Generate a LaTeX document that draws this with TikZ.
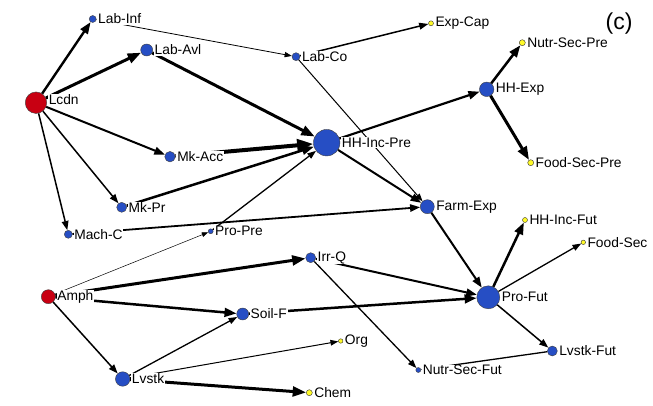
\documentclass[tikz,border=0pt]{standalone}
\usepackage{fontspec}
\setmainfont{Liberation Sans}
\usetikzlibrary{arrows.meta}
\definecolor{nblue}{RGB}{38,78,196}
\definecolor{nred}{RGB}{200,0,18}
\definecolor{nyel}{RGB}{255,250,40}
\begin{document}
\begin{tikzpicture}[x=1pt,y=-1pt,
  bn/.style={circle,draw=black!75,line width=0.4pt,fill=nblue,inner sep=0pt,minimum size=#1},
  rn/.style={circle,draw=black!75,line width=0.4pt,fill=nred,inner sep=0pt,minimum size=#1},
  yn/.style={circle,draw=black!80,line width=0.4pt,fill=nyel,inner sep=0pt,minimum size=#1},
  lbl/.style={fill=white,anchor=west,inner xsep=0.8pt,inner ysep=0.6pt,xshift=0.8pt,font=\fontsize{13.8}{15}\selectfont},
  ed/.style={line width=#1,-{Triangle[length=5pt 2.8,width=3.5pt 2.1]}}
]
\useasboundingbox[fill=white] (0,0) rectangle (653,406);

% nodes
\node[rn=21.5] (Lcdn) at (36,102.7) {};
\node[bn=7] (LabInf) at (92.7,19) {};
\node[bn=12] (LabAvl) at (146.7,50) {};
\node[bn=8] (LabCo) at (296,56.7) {};
\node[yn=5] (ExpCap) at (431,23.3) {};
\node[yn=6] (NutrSecPre) at (522.3,42.7) {};
\node[bn=14.5] (HHExp) at (486.7,89.3) {};
\node[bn=26.5] (HHIncPre) at (326.7,142.7) {};
\node[yn=6] (FoodSecPre) at (530.7,162.7) {};
\node[bn=10.5] (MkAcc) at (170,156.7) {};
\node[bn=10] (MkPr) at (121.7,207.3) {};
\node[bn=8] (MachC) at (68.3,234.3) {};
\node[bn=5] (ProPre) at (210.7,231.3) {};
\node[bn=14] (FarmExp) at (427.3,206.7) {};
\node[yn=5] (HHIncFut) at (525,220) {};
\node[yn=4.5] (FoodSec) at (583.3,242.3) {};
\node[bn=10] (IrrQ) at (310.7,257.7) {};
\node[rn=14] (Amph) at (48.3,296.7) {};
\node[bn=12] (SoilF) at (242.7,314) {};
\node[bn=23] (ProFut) at (488.3,297.3) {};
\node[yn=4.5] (Org) at (340.7,341) {};
\node[bn=10] (LvstkFut) at (552.3,351) {};
\node[bn=5] (NutrSecFut) at (418.3,370) {};
\node[bn=14.5] (Lvstk) at (122.7,379) {};
\node[yn=6] (Chem) at (309.3,392.7) {};

% edges
\draw[ed=2.4] (Lcdn) -- (LabInf);
\draw[ed=3] (Lcdn) -- (LabAvl);
\draw[ed=2] (Lcdn) -- (MkAcc);
\draw[ed=1.5] (Lcdn) -- (MkPr);
\draw[ed=1.5] (Lcdn) -- (MachC);
\draw[ed=0.8] (LabInf) -- (LabCo);
\draw[ed=3] (LabAvl) -- (HHIncPre);
\draw[ed=1.5] (LabCo) -- (ExpCap);
\draw[ed=1] (LabCo) -- (FarmExp);
\draw[ed=4] (MkAcc) -- (HHIncPre);
\draw[ed=2.5] (MkPr) -- (HHIncPre);
\draw[ed=1.3] (ProPre) -- (HHIncPre);
\draw[ed=1.8] (MachC) -- (FarmExp);
\draw[ed=2.2] (HHIncPre) -- (HHExp);
\draw[ed=2] (HHIncPre) -- (FarmExp);
\draw[ed=2.5] (HHExp) -- (NutrSecPre);
\draw[ed=3] (HHExp) -- (FoodSecPre);
\draw[ed=2] (FarmExp) -- (ProFut);
\draw[ed=2] (IrrQ) -- (ProFut);
\draw[ed=1.3] (IrrQ) -- (NutrSecFut);
\draw[ed=2.5] (SoilF) -- (ProFut);
\draw[ed=2.5] (ProFut) -- (HHIncFut);
\draw[ed=1.3] (ProFut) -- (FoodSec);
\draw[ed=1.5] (ProFut) -- (LvstkFut);
\draw[ed=1.3] (LvstkFut) -- (NutrSecFut);
\draw[ed=0.5] (Amph) -- (ProPre);
\draw[ed=3] (Amph) -- (IrrQ);
\draw[ed=2.5] (Amph) -- (SoilF);
\draw[ed=1.5] (Amph) -- (Lvstk);
\draw[ed=1.3] (Lvstk) -- (SoilF);
\draw[ed=1] (Lvstk) -- (Org);
\draw[ed=3] (Lvstk) -- (Chem);

% labels
\node[lbl] (LcdnL) at ([yshift=3pt]Lcdn.east) {Lcdn};
\node[lbl] (LabInfL) at (LabInf.east) {Lab-Inf};
\node[lbl] (LabAvlL) at (LabAvl.east) {Lab-Avl};
\node[lbl] (LabCoL) at (LabCo.east) {Lab-Co};
\node[lbl] (ExpCapL) at (ExpCap.east) {Exp-Cap};
\node[lbl] (NutrSecPreL) at (NutrSecPre.east) {Nutr-Sec-Pre};
\node[lbl] (HHExpL) at (HHExp.east) {HH-Exp};
\node[lbl] (HHIncPreL) at (HHIncPre.east) {HH-Inc-Pre};
\node[lbl] (FoodSecPreL) at (FoodSecPre.east) {Food-Sec-Pre};
\node[lbl] (MkAccL) at (MkAcc.east) {Mk-Acc};
\node[lbl] (MkPrL) at (MkPr.east) {Mk-Pr};
\node[lbl] (MachCL) at (MachC.east) {Mach-C};
\node[lbl] (ProPreL) at (ProPre.east) {Pro-Pre};
\node[lbl] (FarmExpL) at (FarmExp.east) {Farm-Exp};
\node[lbl] (HHIncFutL) at (HHIncFut.east) {HH-Inc-Fut};
\node[lbl] (FoodSecL) at (FoodSec.east) {Food-Sec};
\node[lbl] (IrrQL) at (IrrQ.east) {Irr-Q};
\node[lbl] (AmphL) at (Amph.east) {Amph};
\node[lbl] (SoilFL) at (SoilF.east) {Soil-F};
\node[lbl] (ProFutL) at (ProFut.east) {Pro-Fut};
\node[lbl] (OrgL) at (Org.east) {Org};
\node[lbl] (LvstkFutL) at (LvstkFut.east) {Lvstk-Fut};
\node[lbl] (NutrSecFutL) at (NutrSecFut.east) {Nutr-Sec-Fut};
\node[lbl] (LvstkL) at (Lvstk.east) {Lvstk};
\node[lbl] (ChemL) at (Chem.east) {Chem};

\node[font=\fontsize{23}{25}\selectfont,inner sep=0pt] (tag) at (619,24) {(c)};
\end{tikzpicture}
\end{document}
